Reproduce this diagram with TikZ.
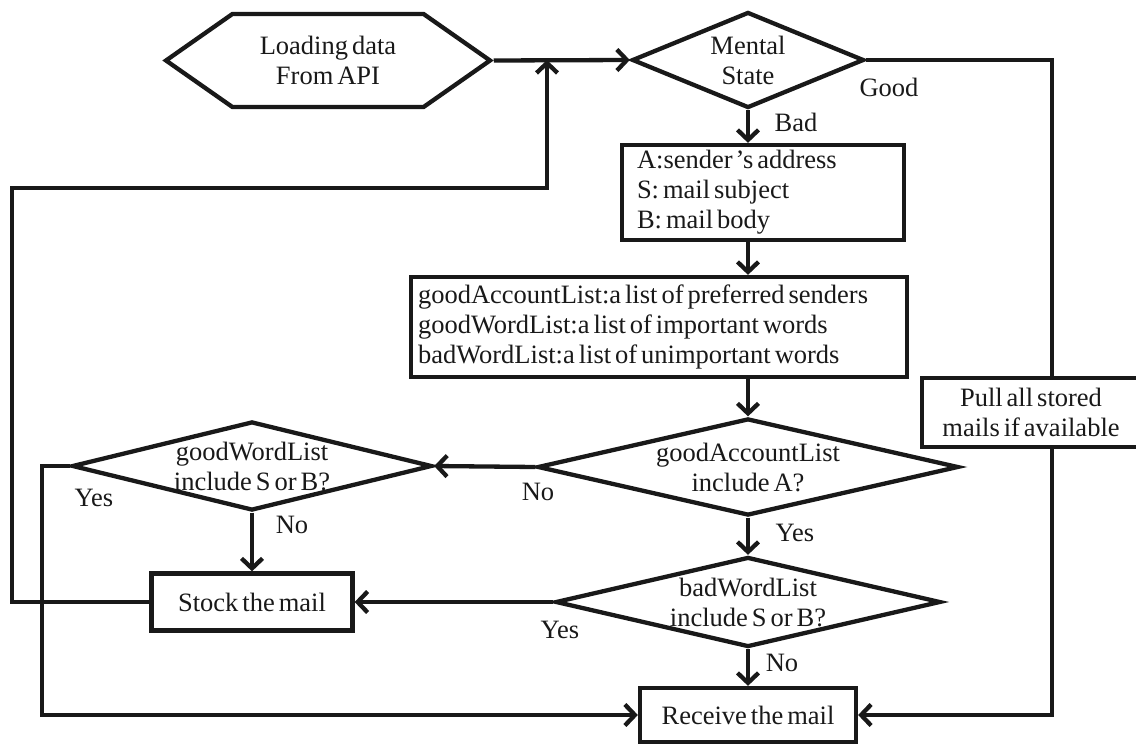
\documentclass[tikz,border=0pt]{standalone}
\usepackage{fontspec}
\setmainfont{Liberation Serif}[WordSpace=0.6]
\usetikzlibrary{shapes.geometric,shapes.symbols,arrows.meta,calc}
\begin{document}
\begin{tikzpicture}[x=1pt,y=-1pt,
  every node/.style={font=\fontsize{26.5}{30}\selectfont, text=black!90},
  line/.style={line width=4.3pt, draw=black!90, line join=miter},
  arr/.style={line, -{Straight Barb[length=10pt,width=21pt]}},
  box/.style={draw=black!90, line width=4.3pt, rectangle, inner sep=0pt, align=center},
  dec/.style={draw=black!90, line width=4.3pt, diamond, inner sep=0pt},
  dectext/.style={align=center, inner sep=0pt, text=black!90},
  lab/.style={inner sep=0pt}]
\useasboundingbox (0,0) rectangle (1136,744);

% start: hexagonal terminal
\node[draw=black!90, line width=4.3pt, signal, signal to=west and east,
      signal pointer angle=70, minimum width=324pt, minimum height=93pt,
      inner sep=0pt, align=center] (load) at (328,60.5) {Loading data\\From API};

% decisions
\node[dec, minimum width=232pt, minimum height=96pt,
      label={[dectext]center:Mental\\State}] (ms) at (748,60) {};
\node[dec, minimum width=421pt, minimum height=97pt,
      label={[dectext]center:goodAccountList\\include A?}] (ga) at (748,467) {};
\node[dec, minimum width=360pt, minimum height=89pt,
      label={[dectext]center:goodWordList\\include S or B?}] (gw) at (252,466) {};
\node[dec, minimum width=385pt, minimum height=90pt,
      label={[dectext]center:badWordList\\include S or B?}] (bw) at (748,602) {};

% process boxes
\node[box, text width=252pt, align=flush left, inner xsep=15pt, minimum height=95pt]
  (asb) at (763,192.5) {A:sender\kern3pt’s address\\S: mail subject\\B: mail body};
\node[box, text width=482pt, align=flush left, inner xsep=7pt, minimum height=100pt]
  (gal) at (659,327) {goodAccountList:a list of preferred senders\\goodWordList:a list of important words\\badWordList:a list of unimportant words};
\node[box, minimum width=201pt, minimum height=57pt] (stock) at (252,602) {Stock the mail};
\node[box, minimum width=216pt, minimum height=54pt] (recv) at (748,715) {Receive the mail};
\node[box, minimum width=218pt, minimum height=69pt] (pull) at (1031,412.5) {Pull all stored\\mails if available};

% routing helpers
\coordinate (join) at (547,60);
\coordinate (col) at (1052,0);

% connectors
\draw[arr] (load.east) -- (ms.west);
\draw[arr] (stock.west) -- (12,602) -- (12,188) -- (547,188) -- (join);
\draw[line] (ms.east) -| (pull.north -| col);
\draw[arr] (pull.south -| col) |- (recv.east);
\draw[arr] (ms.south) -- (asb.north -| ms.south);
\draw[arr] (asb.south -| ms.south) -- (gal.north -| ms.south);
\draw[arr] (gal.south -| ms.south) -- (ga.north);
\draw[arr] (ga.west) -- (gw.east);
\draw[arr] (ga.south) -- (bw.north);
\draw[arr] (bw.south) -- (recv.north);
\draw[arr] (bw.west) -- (stock.east);
\draw[arr] (gw.south) -- (stock.north);
\draw[arr] (gw.west) -- ++(-28,0) |- (recv.west);

% branch labels
\node[lab] (lgood) at (889,87) {Good};
\node[lab] (lbad) at (796,122) {Bad};
\node[lab] (lgano) at (538,492) {No};
\node[lab] (lgayes) at (795,533) {Yes};
\node[lab] (lbwno) at (782,663) {No};
\node[lab] (lbwyes) at (560,630) {Yes};
\node[lab] (lgwno) at (292,525) {No};
\node[lab] (lgwyes) at (94,498) {Yes};
\end{tikzpicture}
\end{document}
